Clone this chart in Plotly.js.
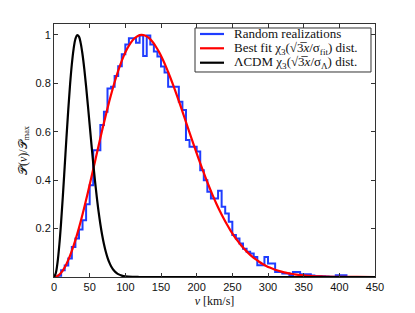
<!DOCTYPE html>
<html>
<head>
<meta charset="utf-8">
<script src="https://cdn.plot.ly/plotly-3.0.1.min.js"></script>
<style>
html,body{margin:0;padding:0;background:#fff;}
#chart{width:415px;height:313px;}
</style>
</head>
<body>
<div id="chart"></div>
<script>
// Histogram of random realizations (step start positions, km/s) and normalized heights
const histX = [0,5,10,15,20,25,30,35,40,45,50,55,60,65,70,75,80,85,90,95,
  100,105,110,115,120,125,130,135,140,145,150,155,160,165,170,175,180,185,190,195,
  200,205,210,215,220,225,230,235,240,245,250,255,260,265,270,275,280,285,290,295,
  300,305,310,315,320,325,330,335,340,345,350,355,360,365,370,375,380,385,390,395,
  400,405,410];
const histY = [0.0,0.005,0.028,0.048,0.076,0.124,0.159,0.196,0.234,0.30,0.379,0.524,0.524,0.628,0.683,0.779,0.786,0.83,0.87,0.92,
  0.96,0.986,0.986,0.968,0.997,0.913,0.997,0.96,0.931,0.911,0.869,0.845,0.786,0.786,0.786,0.724,0.69,0.566,0.538,0.538,
  0.518,0.441,0.40,0.352,0.324,0.324,0.356,0.29,0.262,0.228,0.173,0.159,0.138,0.117,0.104,0.097,0.083,0.049,0.049,0.083,
  0.056,0.056,0.021,0.021,0.014,0.014,0.008,0.021,0.021,0.011,0.011,0.011,0.006,0.004,0.004,0.003,0.002,0.001,0.001,0.007,
  0.007,0.007,0.0];

// Best-fit curve
const fitX = [0,2.5,7.5,12.5,17.5,22.5,27.5,32.5,37.5,42.5,47.5,52.5,57.5,62.5,67.5,72.5,77.5,82.5,87.5,92.5,97.5,
  102.5,107.5,112.5,117.5,122.5,127.5,132.5,137.5,142.5,147.5,152.5,157.5,162.5,167.5,172.5,177.5,182.5,187.5,192.5,197.5,
  202.5,207.5,212.5,217.5,222.5,227.5,232.5,237.5,242.5,247.5,252.5,257.5,262.5,267.5,272.5,277.5,282.5,287.5,292.5,297.5,
  302.5,307.5,312.5,317.5,322.5,327.5,332.5,337.5,342.5,347.5,352.5,357.5,362.5,367.5,372.5,380,400,425,450];
const fitY = [0,0.0011,0.0101,0.0278,0.0539,0.088,0.1293,0.177,0.2302,0.288,0.3492,0.4128,0.4775,0.5422,0.6057,0.6672,0.7255,0.7799,0.8293,0.8733,0.9112,
  0.9426,0.9673,0.9851,0.9959,1.0,0.9973,0.9885,0.9735,0.9532,0.928,0.8983,0.8648,0.8282,0.7891,0.748,0.7056,0.662,0.6184,0.5749,0.5321,
  0.49,0.4494,0.4101,0.3727,0.3374,0.3038,0.2726,0.2435,0.2166,0.1918,0.1693,0.1489,0.1302,0.1135,0.0985,0.0852,0.0734,0.0629,0.0538,0.0458,
  0.0388,0.0328,0.0276,0.0231,0.0193,0.0161,0.0133,0.011,0.009,0.0074,0.0061,0.0049,0.004,0.0032,0.0026,0.0019,0.0007,0.0002,0.0001];

// LambdaCDM curve
const lcdmX = [0,2.5,5,7.5,10,12.5,15,17.5,20,22.5,25,27.5,30,32.5,35,37.5,40,42.5,45,47.5,50,52.5,55,57.5,60,
  62.5,65,67.5,70,72.5,75,77.5,80,82.5,85,87.5,90,95,100,110,120,150,200,300,450];
const lcdmY = [0,0.0156,0.061,0.1333,0.2277,0.3379,0.4568,0.5771,0.6915,0.7939,0.8788,0.9426,0.9831,0.9996,0.9928,0.965,0.919,0.8585,0.7873,0.7094,0.6283,0.5475,0.4695,0.3962,0.3296,
  0.2698,0.218,0.1733,0.1359,0.1051,0.0802,0.0603,0.0448,0.0328,0.0237,0.0169,0.0119,0.0057,0.0026,0.0005,0.0001,0,0,0,0];

const legendNames = [
  'Random realizations',
  'Best fit χ<sub>3</sub>(√3\u0305<i>x</i>/σ<sub>fit</sub>) dist.',
  'ΛCDM χ<sub>3</sub>(√3\u0305<i>x</i>/σ<sub>Λ</sub>) dist.'
];
const seriesColors = ['#1f3dff', '#ff0000', '#000000'];
const xTicks = [0,50,100,150,200,250,300,350,400,450];
const yTicks = [0.2,0.4,0.6,0.8,1];
const yTickText = ['0.2','0.4','0.6','0.8','1'];

const traces = [
  {x: histX, y: histY, type: 'scatter', mode: 'lines', name: legendNames[0],
   line: {color: seriesColors[0], width: 2, shape: 'hv'}},
  {x: fitX, y: fitY, type: 'scatter', mode: 'lines', name: legendNames[1],
   line: {color: seriesColors[1], width: 2.2, shape: 'spline'}},
  {x: lcdmX, y: lcdmY, type: 'scatter', mode: 'lines', name: legendNames[2],
   line: {color: seriesColors[2], width: 2.2, shape: 'spline'}}
];

// Compact MATLAB-style legend box (paper coordinates)
const leg = {x0: 0.4393, x1: 0.9875, y0: 0.8103, y1: 0.9842,
             lineX0: 0.4548, lineX1: 0.5296, textX: 0.5545,
             rows: [0.9605, 0.9040, 0.8470]};
const shapes = [{type: 'rect', xref: 'paper', yref: 'paper', x0: leg.x0, x1: leg.x1, y0: leg.y0, y1: leg.y1,
                 line: {color: '#333', width: 1}, fillcolor: '#fff', layer: 'above'}];
const annotations = [];
legendNames.forEach((name, i) => {
  shapes.push({type: 'line', xref: 'paper', yref: 'paper', x0: leg.lineX0, x1: leg.lineX1,
               y0: leg.rows[i], y1: leg.rows[i], line: {color: seriesColors[i], width: 2.2}, layer: 'above'});
  annotations.push({xref: 'paper', yref: 'paper', x: leg.textX, y: leg.rows[i], xanchor: 'left', yanchor: 'middle',
                    showarrow: false, text: name,
                    font: {family: 'Liberation Serif, DejaVu Serif, serif', size: 13, color: '#111'}});
});

const axisCommon = {
  showline: true, mirror: 'ticks', linecolor: '#333', linewidth: 1,
  ticks: 'inside', ticklen: 4, tickcolor: '#333', tickwidth: 1,
  showgrid: false, zeroline: false,
  tickfont: {family: 'Liberation Sans, Arial, sans-serif', size: 11, color: '#111'}
};

const layout = {
  width: 415, height: 313,
  margin: {l: 54, r: 40, t: 24, b: 36},
  paper_bgcolor: '#fff', plot_bgcolor: '#fff',
  showlegend: false,
  shapes: shapes,
  annotations: annotations,
  xaxis: Object.assign({}, axisCommon, {
    range: [0, 450], tickvals: xTicks, ticktext: xTicks.map(String),
    title: {text: '<i>v</i> [km/s]', font: {family: 'Liberation Serif, serif', size: 12, color: '#111'}, standoff: 4}
  }),
  yaxis: Object.assign({}, axisCommon, {
    range: [0, 1.045], tickvals: yTicks, ticktext: yTickText,
    title: {text: '𝒫(<i>v</i>)/𝒫<sub>max</sub>', font: {family: 'Liberation Serif, DejaVu Serif, serif', size: 12, color: '#111'}, standoff: 5}
  })
};

Plotly.newPlot('chart', traces, layout, {staticPlot: true, displayModeBar: false});
</script>
</body>
</html>
